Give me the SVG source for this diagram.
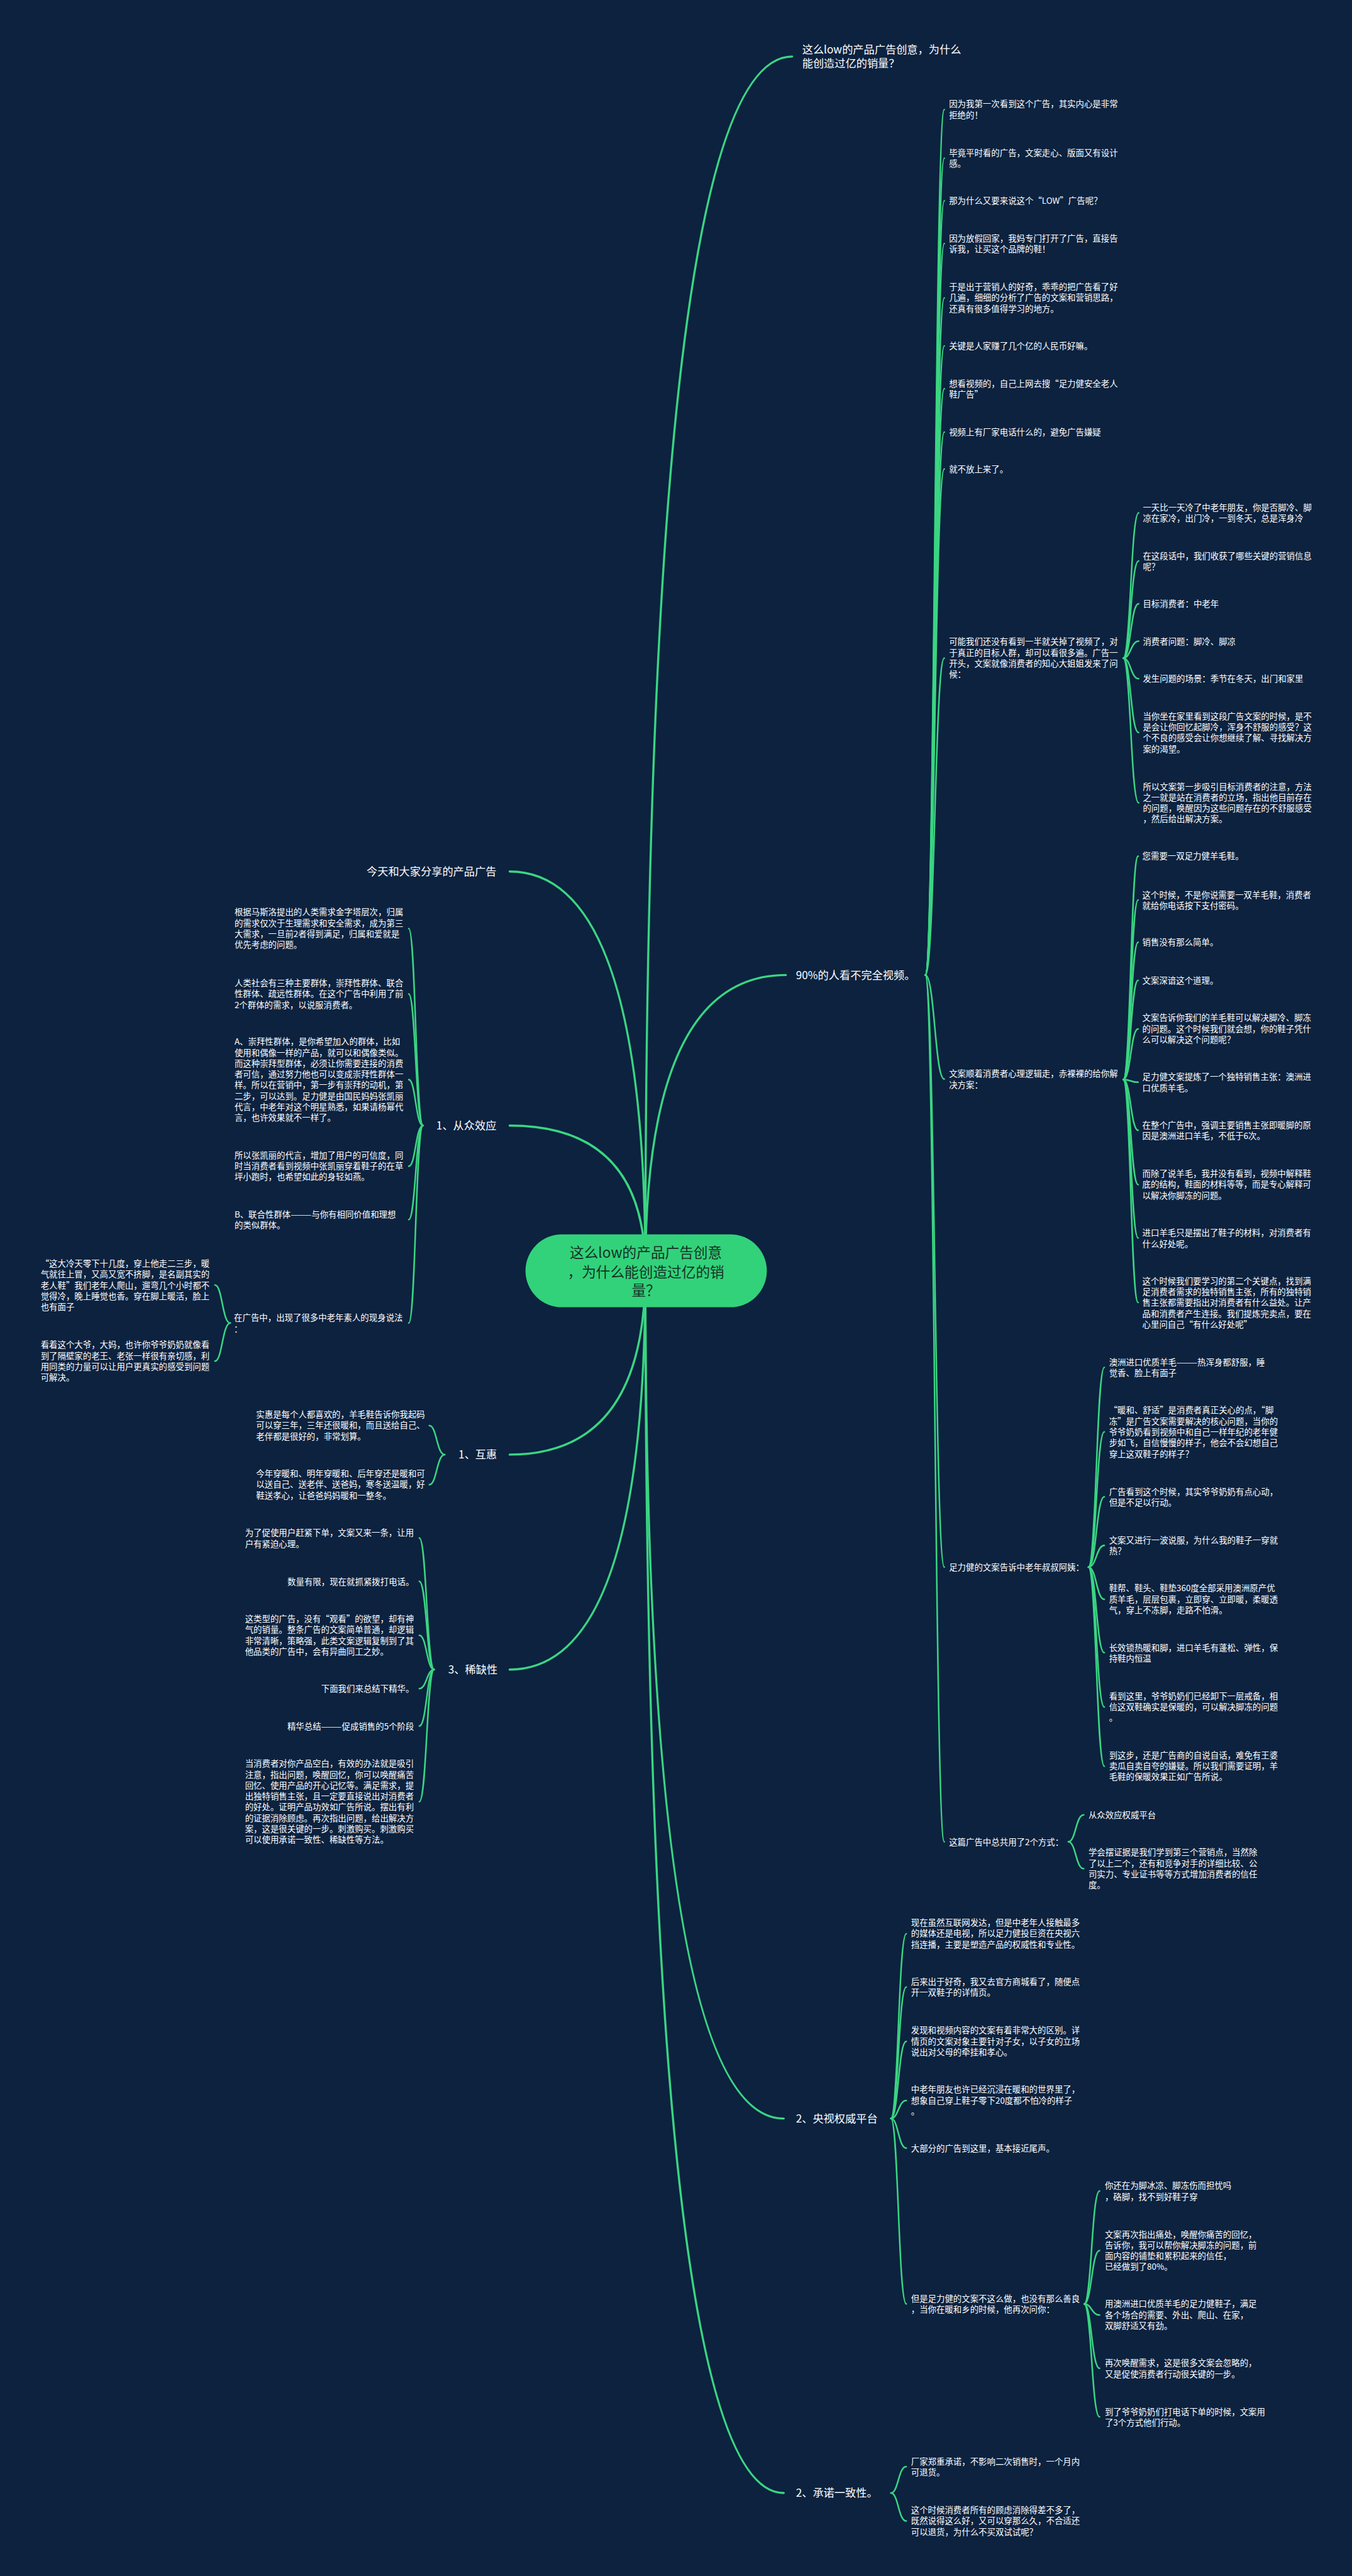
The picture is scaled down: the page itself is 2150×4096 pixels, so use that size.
<svg xmlns="http://www.w3.org/2000/svg" width="2150" height="4096" viewBox="0 0 2150 4096">
<style>
.t{font-family:"Noto Sans CJK SC","Noto Sans",sans-serif;font-size:16px;fill:#ffffff}
.l{font-size:20.5px}
.c{font-size:27px;fill:#163226;text-anchor:middle}
.e{text-anchor:end}
.k{fill:none;stroke:#3bd582;stroke-width:3;stroke-linecap:round}
.m{stroke-width:4}
</style>
<rect x="0" y="0" width="2150" height="4096" fill="#0c223f"/>
<g transform="scale(0.83984)">
<g id="connectors">
<path class="k m" d="M1222 2406 Q1222 107 1500 107"/>
<path class="k m" d="M1222 2406 Q1222 1846 1488 1846"/>
<path class="k m" d="M1222 2406 Q1222 4011 1484 4011"/>
<path class="k m" d="M1222 2406 Q1222 4720 1484 4720"/>
<path class="k m" d="M1222 2406 Q1222 1650 965 1650"/>
<path class="k m" d="M1222 2406 Q1222 2131 965 2131"/>
<path class="k m" d="M1222 2406 Q1222 2754 965 2754"/>
<path class="k m" d="M1222 2406 Q1222 3161 965 3161"/>
<path class="k" d="M1752 1846 C1770 1846 1770 207.5 1788 207.5"/>
<path class="k" d="M1752 1846 C1770 1846 1770 299.5 1788 299.5"/>
<path class="k" d="M1752 1846 C1770 1846 1770 380 1788 380"/>
<path class="k" d="M1752 1846 C1770 1846 1770 461 1788 461"/>
<path class="k" d="M1752 1846 C1770 1846 1770 564 1788 564"/>
<path class="k" d="M1752 1846 C1770 1846 1770 655 1788 655"/>
<path class="k" d="M1752 1846 C1770 1846 1770 736 1788 736"/>
<path class="k" d="M1752 1846 C1770 1846 1770 818 1788 818"/>
<path class="k" d="M1752 1846 C1770 1846 1770 888 1788 888"/>
<path class="k" d="M1752 1846 C1770 1846 1770 1246 1788 1246"/>
<path class="k" d="M1752 1846 C1770 1846 1770 2043 1788 2043"/>
<path class="k" d="M1752 1846 C1770 1846 1770 2967 1788 2967"/>
<path class="k" d="M1752 1846 C1770 1846 1770 3487 1788 3487"/>
<path class="k" d="M2127 1246 C2141 1246 2141 971 2156 971"/>
<path class="k" d="M2127 1246 C2141 1246 2141 1062 2156 1062"/>
<path class="k" d="M2127 1246 C2141 1246 2141 1143 2156 1143"/>
<path class="k" d="M2127 1246 C2141 1246 2141 1214 2156 1214"/>
<path class="k" d="M2127 1246 C2141 1246 2141 1285 2156 1285"/>
<path class="k" d="M2127 1246 C2141 1246 2141 1387 2156 1387"/>
<path class="k" d="M2127 1246 C2141 1246 2141 1520 2156 1520"/>
<path class="k" d="M2127 2044 C2141 2044 2141 1621 2155 1621"/>
<path class="k" d="M2127 2044 C2141 2044 2141 1704 2155 1704"/>
<path class="k" d="M2127 2044 C2141 2044 2141 1784 2155 1784"/>
<path class="k" d="M2127 2044 C2141 2044 2141 1856 2155 1856"/>
<path class="k" d="M2127 2044 C2141 2044 2141 1948 2155 1948"/>
<path class="k" d="M2127 2044 C2141 2044 2141 2049 2155 2049"/>
<path class="k" d="M2127 2044 C2141 2044 2141 2140 2155 2140"/>
<path class="k" d="M2127 2044 C2141 2044 2141 2243 2155 2243"/>
<path class="k" d="M2127 2044 C2141 2044 2141 2344 2155 2344"/>
<path class="k" d="M2127 2044 C2141 2044 2141 2466 2155 2466"/>
<path class="k" d="M2061 2967 C2076 2967 2076 2589 2091 2589"/>
<path class="k" d="M2061 2967 C2076 2967 2076 2711 2091 2711"/>
<path class="k" d="M2061 2967 C2076 2967 2076 2834 2091 2834"/>
<path class="k" d="M2061 2967 C2076 2967 2076 2926 2091 2926"/>
<path class="k" d="M2061 2967 C2076 2967 2076 3028 2091 3028"/>
<path class="k" d="M2061 2967 C2076 2967 2076 3129 2091 3129"/>
<path class="k" d="M2061 2967 C2076 2967 2076 3232 2091 3232"/>
<path class="k" d="M2061 2967 C2076 2967 2076 3344 2091 3344"/>
<path class="k" d="M2023 3487 C2037 3487 2037 3436 2052 3436"/>
<path class="k" d="M2023 3487 C2037 3487 2037 3538 2052 3538"/>
<path class="k" d="M1687 4011 C1701 4011 1701 3661 1716 3661"/>
<path class="k" d="M1687 4011 C1701 4011 1701 3762 1716 3762"/>
<path class="k" d="M1687 4011 C1701 4011 1701 3865 1716 3865"/>
<path class="k" d="M1687 4011 C1701 4011 1701 3977 1716 3977"/>
<path class="k" d="M1687 4011 C1701 4011 1701 4067 1716 4067"/>
<path class="k" d="M1687 4011 C1701 4011 1701 4362 1716 4362"/>
<path class="k" d="M2053 4362 C2067 4362 2067 4148 2082 4148"/>
<path class="k" d="M2053 4362 C2067 4362 2067 4261 2082 4261"/>
<path class="k" d="M2053 4362 C2067 4362 2067 4383 2082 4383"/>
<path class="k" d="M2053 4362 C2067 4362 2067 4484 2082 4484"/>
<path class="k" d="M2053 4362 C2067 4362 2067 4576 2082 4576"/>
<path class="k" d="M1687 4720 C1701 4720 1701 4670 1716 4670"/>
<path class="k" d="M1687 4720 C1701 4720 1701 4773 1716 4773"/>
<path class="k" d="M801 2131 C787 2131 787 1758 774 1758"/>
<path class="k" d="M801 2131 C787 2131 787 1882 774 1882"/>
<path class="k" d="M801 2131 C787 2131 787 2044 774 2044"/>
<path class="k" d="M801 2131 C787 2131 787 2208 774 2208"/>
<path class="k" d="M801 2131 C787 2131 787 2309 774 2309"/>
<path class="k" d="M801 2131 C787 2131 787 2505 774 2505"/>
<path class="k" d="M436 2505 C421 2505 421 2433 407 2433"/>
<path class="k" d="M436 2505 C421 2505 421 2577 407 2577"/>
<path class="k" d="M842 2754 C827 2754 827 2699 813 2699"/>
<path class="k" d="M842 2754 C827 2754 827 2811 813 2811"/>
<path class="k" d="M822 3161 C808 3161 808 2912 794 2912"/>
<path class="k" d="M822 3161 C808 3161 808 2994 794 2994"/>
<path class="k" d="M822 3161 C808 3161 808 3096 794 3096"/>
<path class="k" d="M822 3161 C808 3161 808 3197 794 3197"/>
<path class="k" d="M822 3161 C808 3161 808 3268 794 3268"/>
<path class="k" d="M822 3161 C808 3161 808 3411 794 3411"/>
</g>

<g id="root">
<rect x="995" y="2337" width="457" height="138" rx="69" fill="#32d27a"/>
<text class="t c" x="1223" y="2382">这么low的产品广告创意</text>
<text class="t c" x="1223" y="2418">，为什么能创造过亿的销</text>
<text class="t c" x="1223" y="2453">量？</text>
</g>

<g id="b_title"><text class="t l" x="1519" y="101"><tspan x="1519">这么low的产品广告创意，为什么</tspan><tspan x="1519" dy="27">能创造过亿的销量？</tspan></text></g>
<g id="b_90"><text class="t l" x="1507" y="1853.5">90%的人看不完全视频。</text></g>
<g id="b_cctv"><text class="t l" x="1507" y="4018.5">2、央视权威平台</text></g>
<g id="b_promise"><text class="t l" x="1507" y="4727.5">2、承诺一致性。</text></g>
<g id="b_share"><text class="t l e" x="940" y="1657.5">今天和大家分享的产品广告</text></g>
<g id="b_herd"><text class="t l e" x="940" y="2138.5">1、从众效应</text></g>
<g id="b_recip"><text class="t l e" x="941" y="2761.5">1、互惠</text></g>
<g id="b_scarce"><text class="t l e" x="942" y="3168.5">3、稀缺性</text></g>

<g id="n90_1"><text class="t" y="203"><tspan x="1797">因为我第一次看到这个广告，其实内心是非常</tspan><tspan x="1797" dy="20.6">拒绝的！</tspan></text></g>
<g id="n90_2"><text class="t" y="295"><tspan x="1797">毕竟平时看的广告，文案走心、版面又有设计</tspan><tspan x="1797" dy="20.6">感。</tspan></text></g>
<g id="n90_3"><text class="t" x="1797" y="386">那为什么又要来说这个“LOW”广告呢？</text></g>
<g id="n90_4"><text class="t" y="457"><tspan x="1797">因为放假回家，我妈专门打开了广告，直接告</tspan><tspan x="1797" dy="20.6">诉我，让买这个品牌的鞋！</tspan></text></g>
<g id="n90_5"><text class="t" y="549"><tspan x="1797">于是出于营销人的好奇，乖乖的把广告看了好</tspan><tspan x="1797" dy="20.6">几遍，细细的分析了广告的文案和营销思路，</tspan><tspan x="1797" dy="20.6">还真有很多值得学习的地方。</tspan></text></g>
<g id="n90_6"><text class="t" x="1797" y="661">关键是人家赚了几个亿的人民币好嘛。</text></g>
<g id="n90_7"><text class="t" y="732"><tspan x="1797">想看视频的，自己上网去搜“足力健安全老人</tspan><tspan x="1797" dy="20.6">鞋广告”</tspan></text></g>
<g id="n90_8"><text class="t" x="1797" y="824">视频上有厂家电话什么的，避免广告嫌疑</text></g>
<g id="n90_9"><text class="t" x="1797" y="894">就不放上来了。</text></g>
<g id="n90_10"><text class="t" y="1221"><tspan x="1797">可能我们还没有看到一半就关掉了视频了，对</tspan><tspan x="1797" dy="20.6">于真正的目标人群，却可以看很多遍。广告一</tspan><tspan x="1797" dy="20.6">开头，文案就像消费者的知心大姐姐发来了问</tspan><tspan x="1797" dy="20.6">候：</tspan></text></g>
<g id="n90_11"><text class="t" y="2039"><tspan x="1797">文案顺着消费者心理逻辑走，赤裸裸的给你解</tspan><tspan x="1797" dy="20.6">决方案：</tspan></text></g>
<g id="n90_12"><text class="t" x="1797" y="2973">足力健的文案告诉中老年叔叔阿姨：</text></g>
<g id="n90_13"><text class="t" x="1797" y="3493">这篇广告中总共用了2个方式：</text></g>

<g id="nk_1"><text class="t" y="967"><tspan x="2164">一天比一天冷了中老年朋友，你是否脚冷、脚</tspan><tspan x="2164" dy="20.6">凉在家冷，出门冷，一到冬天，总是浑身冷</tspan></text></g>
<g id="nk_2"><text class="t" y="1058"><tspan x="2164">在这段话中，我们收获了哪些关键的营销信息</tspan><tspan x="2164" dy="20.6">呢？</tspan></text></g>
<g id="nk_3"><text class="t" x="2164" y="1149">目标消费者：中老年</text></g>
<g id="nk_4"><text class="t" x="2164" y="1220">消费者问题：脚冷、脚凉</text></g>
<g id="nk_5"><text class="t" x="2164" y="1291">发生问题的场景：季节在冬天，出门和家里</text></g>
<g id="nk_6"><text class="t" y="1362"><tspan x="2164">当你坐在家里看到这段广告文案的时候，是不</tspan><tspan x="2164" dy="20.6">是会让你回忆起脚冷，浑身不舒服的感受？这</tspan><tspan x="2164" dy="20.6">个不良的感受会让你想继续了解、寻找解决方</tspan><tspan x="2164" dy="20.6">案的渴望。</tspan></text></g>
<g id="nk_7"><text class="t" y="1495"><tspan x="2164">所以文案第一步吸引目标消费者的注意，方法</tspan><tspan x="2164" dy="20.6">之一就是站在消费者的立场，指出他目前存在</tspan><tspan x="2164" dy="20.6">的问题，唤醒因为这些问题存在的不舒服感受</tspan><tspan x="2164" dy="20.6">，然后给出解决方案。</tspan></text></g>

<g id="ns_1"><text class="t" x="2163" y="1627">您需要一双足力健羊毛鞋。</text></g>
<g id="ns_2"><text class="t" y="1700"><tspan x="2163">这个时候，不是你说需要一双羊毛鞋，消费者</tspan><tspan x="2163" dy="20.6">就给你电话按下支付密码。</tspan></text></g>
<g id="ns_3"><text class="t" x="2163" y="1790">销售没有那么简单。</text></g>
<g id="ns_4"><text class="t" x="2163" y="1862">文案深谙这个道理。</text></g>
<g id="ns_5"><text class="t" y="1933"><tspan x="2163">文案告诉你我们的羊毛鞋可以解决脚冷、脚冻</tspan><tspan x="2163" dy="20.6">的问题。这个时候我们就会想，你的鞋子凭什</tspan><tspan x="2163" dy="20.6">么可以解决这个问题呢？</tspan></text></g>
<g id="ns_6"><text class="t" y="2045"><tspan x="2163">足力健文案提炼了一个独特销售主张：澳洲进</tspan><tspan x="2163" dy="20.6">口优质羊毛。</tspan></text></g>
<g id="ns_7"><text class="t" y="2136"><tspan x="2163">在整个广告中，强调主要销售主张即暖脚的原</tspan><tspan x="2163" dy="20.6">因是澳洲进口羊毛，不低于6次。</tspan></text></g>
<g id="ns_8"><text class="t" y="2228"><tspan x="2163">而除了说羊毛，我并没有看到，视频中解释鞋</tspan><tspan x="2163" dy="20.6">底的结构，鞋面的材料等等，而是专心解释可</tspan><tspan x="2163" dy="20.6">以解决你脚冻的问题。</tspan></text></g>
<g id="ns_9"><text class="t" y="2340"><tspan x="2163">进口羊毛只是摆出了鞋子的材料，对消费者有</tspan><tspan x="2163" dy="20.6">什么好处呢。</tspan></text></g>
<g id="ns_10"><text class="t" y="2431"><tspan x="2163">这个时候我们要学习的第二个关键点，找到满</tspan><tspan x="2163" dy="20.6">足消费者需求的独特销售主张，所有的独特销</tspan><tspan x="2163" dy="20.6">售主张都需要指出对消费者有什么益处。让产</tspan><tspan x="2163" dy="20.6">品和消费者产生连接。我们提炼完卖点，要在</tspan><tspan x="2163" dy="20.6">心里问自己“有什么好处呢”</tspan></text></g>

<g id="nz_1"><text class="t" y="2585"><tspan x="2100">澳洲进口优质羊毛———热浑身都舒服，睡</tspan><tspan x="2100" dy="20.6">觉香、脸上有面子</tspan></text></g>
<g id="nz_2"><text class="t" y="2676"><tspan x="2100">“暖和、舒适”是消费者真正关心的点，“脚</tspan><tspan x="2100" dy="20.6">冻”是广告文案需要解决的核心问题，当你的</tspan><tspan x="2100" dy="20.6">爷爷奶奶看到视频中和自己一样年纪的老年健</tspan><tspan x="2100" dy="20.6">步如飞，自信慢慢的样子，他会不会幻想自己</tspan><tspan x="2100" dy="20.6">穿上这双鞋子的样子？</tspan></text></g>
<g id="nz_3"><text class="t" y="2830"><tspan x="2100">广告看到这个时候，其实爷爷奶奶有点心动，</tspan><tspan x="2100" dy="20.6">但是不足以行动。</tspan></text></g>
<g id="nz_4"><text class="t" y="2922"><tspan x="2100">文案又进行一波说服，为什么我的鞋子一穿就</tspan><tspan x="2100" dy="20.6">热？</tspan></text></g>
<g id="nz_5"><text class="t" y="3013"><tspan x="2100">鞋帮、鞋头、鞋垫360度全部采用澳洲原产优</tspan><tspan x="2100" dy="20.6">质羊毛，层层包裹，立即穿、立即暖，柔暖透</tspan><tspan x="2100" dy="20.6">气，穿上不冻脚，走路不怕滑。</tspan></text></g>
<g id="nz_6"><text class="t" y="3125"><tspan x="2100">长效锁热暖和脚，进口羊毛有蓬松、弹性，保</tspan><tspan x="2100" dy="20.6">持鞋内恒温</tspan></text></g>
<g id="nz_7"><text class="t" y="3217"><tspan x="2100">看到这里，爷爷奶奶们已经卸下一层戒备，相</tspan><tspan x="2100" dy="20.6">信这双鞋确实是保暖的，可以解决脚冻的问题</tspan><tspan x="2100" dy="20.6">。</tspan></text></g>
<g id="nz_8"><text class="t" y="3329"><tspan x="2100">到这步，还是广告商的自说自话，难免有王婆</tspan><tspan x="2100" dy="20.6">卖瓜自卖自夸的嫌疑。所以我们需要证明，羊</tspan><tspan x="2100" dy="20.6">毛鞋的保暖效果正如广告所说。</tspan></text></g>

<g id="nw_1"><text class="t" x="2061" y="3442">从众效应权威平台</text></g>
<g id="nw_2"><text class="t" y="3513"><tspan x="2061">学会摆证据是我们学到第三个营销点，当然除</tspan><tspan x="2061" dy="20.6">了以上二个，还有和竞争对手的详细比较、公</tspan><tspan x="2061" dy="20.6">司实力、专业证书等等方式增加消费者的信任</tspan><tspan x="2061" dy="20.6">度。</tspan></text></g>

<g id="nc_1"><text class="t" y="3646"><tspan x="1725">现在虽然互联网发达，但是中老年人接触最多</tspan><tspan x="1725" dy="20.6">的媒体还是电视，所以足力健投巨资在央视六</tspan><tspan x="1725" dy="20.6">挡连播，主要是塑造产品的权威性和专业性。</tspan></text></g>
<g id="nc_2"><text class="t" y="3758"><tspan x="1725">后来出于好奇，我又去官方商城看了，随便点</tspan><tspan x="1725" dy="20.6">开一双鞋子的详情页。</tspan></text></g>
<g id="nc_3"><text class="t" y="3850"><tspan x="1725">发现和视频内容的文案有着非常大的区别。详</tspan><tspan x="1725" dy="20.6">情页的文案对象主要针对子女，以子女的立场</tspan><tspan x="1725" dy="20.6">说出对父母的牵挂和孝心。</tspan></text></g>
<g id="nc_4"><text class="t" y="3962"><tspan x="1725">中老年朋友也许已经沉浸在暖和的世界里了，</tspan><tspan x="1725" dy="20.6">想象自己穿上鞋子零下20度都不怕冷的样子</tspan><tspan x="1725" dy="20.6">。</tspan></text></g>
<g id="nc_5"><text class="t" x="1725" y="4073">大部分的广告到这里，基本接近尾声。</text></g>
<g id="nc_6"><text class="t" y="4358"><tspan x="1725">但是足力健的文案不这么做，也没有那么善良</tspan><tspan x="1725" dy="20.6">，当你在暖和乡的时候，他再次问你：</tspan></text></g>

<g id="nd_1"><text class="t" y="4144"><tspan x="2092">你还在为脚冰凉、脚冻伤而担忧吗</tspan><tspan x="2092" dy="20.6">，硌脚，找不到好鞋子穿</tspan></text></g>
<g id="nd_2"><text class="t" y="4236"><tspan x="2092">文案再次指出痛处，唤醒你痛苦的回忆，</tspan><tspan x="2092" dy="20.6">告诉你，我可以帮你解决脚冻的问题，前</tspan><tspan x="2092" dy="20.6">面内容的铺垫和累积起来的信任，</tspan><tspan x="2092" dy="20.6">已经做到了80%。</tspan></text></g>
<g id="nd_3"><text class="t" y="4368"><tspan x="2092">用澳洲进口优质羊毛的足力健鞋子，满足</tspan><tspan x="2092" dy="20.6">各个场合的需要、外出、爬山、在家，</tspan><tspan x="2092" dy="20.6">双脚舒适又有劲。</tspan></text></g>
<g id="nd_4"><text class="t" y="4480"><tspan x="2092">再次唤醒需求，这是很多文案会忽略的，</tspan><tspan x="2092" dy="20.6">又是促使消费者行动很关键的一步。</tspan></text></g>
<g id="nd_5"><text class="t" y="4572"><tspan x="2092">到了爷爷奶奶们打电话下单的时候，文案用</tspan><tspan x="2092" dy="20.6">了3个方式他们行动。</tspan></text></g>

<g id="np_1"><text class="t" y="4666"><tspan x="1725">厂家郑重承诺，不影响二次销售时，一个月内</tspan><tspan x="1725" dy="20.6">可退货。</tspan></text></g>
<g id="np_2"><text class="t" y="4758"><tspan x="1725">这个时候消费者所有的顾虑消除得差不多了，</tspan><tspan x="1725" dy="20.6">既然说得这么好，又可以穿那么久，不合适还</tspan><tspan x="1725" dy="20.6">可以退货，为什么不买双试试呢？</tspan></text></g>

<g id="nh_1"><text class="t" y="1733"><tspan x="444">根据马斯洛提出的人类需求金字塔层次，归属</tspan><tspan x="444" dy="20.6">的需求仅次于生理需求和安全需求，成为第三</tspan><tspan x="444" dy="20.6">大需求，一旦前2者得到满足，归属和爱就是</tspan><tspan x="444" dy="20.6">优先考虑的问题。</tspan></text></g>
<g id="nh_2"><text class="t" y="1867"><tspan x="444">人类社会有三种主要群体，崇拜性群体、联合</tspan><tspan x="444" dy="20.6">性群体、疏远性群体。在这个广告中利用了前</tspan><tspan x="444" dy="20.6">2个群体的需求，以说服消费者。</tspan></text></g>
<g id="nh_3"><text class="t" y="1978"><tspan x="444">A、崇拜性群体，是你希望加入的群体，比如</tspan><tspan x="444" dy="20.6">使用和偶像一样的产品，就可以和偶像类似。</tspan><tspan x="444" dy="20.6">而这种崇拜型群体，必须让你需要连接的消费</tspan><tspan x="444" dy="20.6">者可信，通过努力他也可以变成崇拜性群体一</tspan><tspan x="444" dy="20.6">样。所以在营销中，第一步有崇拜的动机，第</tspan><tspan x="444" dy="20.6">二步，可以达到。足力健是由国民妈妈张凯丽</tspan><tspan x="444" dy="20.6">代言，中老年对这个明星熟悉，如果请杨幂代</tspan><tspan x="444" dy="20.6">言，也许效果就不一样了。</tspan></text></g>
<g id="nh_4"><text class="t" y="2193"><tspan x="444">所以张凯丽的代言，增加了用户的可信度，同</tspan><tspan x="444" dy="20.6">时当消费者看到视频中张凯丽穿着鞋子的在草</tspan><tspan x="444" dy="20.6">坪小跑时，也希望如此的身轻如燕。</tspan></text></g>
<g id="nh_5"><text class="t" y="2305"><tspan x="444">B、联合性群体———与你有相同价值和理想</tspan><tspan x="444" dy="20.6">的类似群体。</tspan></text></g>
<g id="nh_6"><text class="t" y="2501"><tspan x="443">在广告中，出现了很多中老年素人的现身说法</tspan><tspan x="443" dy="20.6">：</tspan></text></g>

<g id="ng_1"><text class="t" y="2398"><tspan x="77">“这大冷天零下十几度，穿上他走二三步，暖</tspan><tspan x="77" dy="20.6">气就往上冒，又高又宽不挤脚，是名副其实的</tspan><tspan x="77" dy="20.6">老人鞋”我们老年人爬山，遛弯几个小时都不</tspan><tspan x="77" dy="20.6">觉得冷，晚上睡觉也香。穿在脚上暖活，脸上</tspan><tspan x="77" dy="20.6">也有面子</tspan></text></g>
<g id="ng_2"><text class="t" y="2552"><tspan x="77">看着这个大爷，大妈，也许你爷爷奶奶就像看</tspan><tspan x="77" dy="20.6">到了隔壁家的老王、老张一样很有亲切感，利</tspan><tspan x="77" dy="20.6">用同类的力量可以让用户更真实的感受到问题</tspan><tspan x="77" dy="20.6">可解决。</tspan></text></g>

<g id="nr_1"><text class="t" y="2684"><tspan x="485">实惠是每个人都喜欢的，羊毛鞋告诉你我起码</tspan><tspan x="485" dy="20.6">可以穿三年，三年还很暖和，而且送给自己、</tspan><tspan x="485" dy="20.6">老伴都是很好的，非常划算。</tspan></text></g>
<g id="nr_2"><text class="t" y="2796"><tspan x="485">今年穿暖和、明年穿暖和、后年穿还是暖和可</tspan><tspan x="485" dy="20.6">以送自己、送老伴、送爸妈，寒冬送温暖，好</tspan><tspan x="485" dy="20.6">鞋送孝心，让爸爸妈妈暖和一整冬。</tspan></text></g>

<g id="nx_1"><text class="t" y="2908"><tspan x="464">为了促使用户赶紧下单，文案又来一条，让用</tspan><tspan x="464" dy="20.6">户有紧迫心理。</tspan></text></g>
<g id="nx_2"><text class="t e" x="784" y="3000">数量有限，现在就抓紧拨打电话。</text></g>
<g id="nx_3"><text class="t" y="3071"><tspan x="464">这类型的广告，没有“观看”的欲望，却有神</tspan><tspan x="464" dy="20.6">气的销量。整条广告的文案简单普通，却逻辑</tspan><tspan x="464" dy="20.6">非常清晰，策略强，此类文案逻辑复制到了其</tspan><tspan x="464" dy="20.6">他品类的广告中，会有异曲同工之妙。</tspan></text></g>
<g id="nx_4"><text class="t e" x="784" y="3203">下面我们来总结下精华。</text></g>
<g id="nx_5"><text class="t e" x="784" y="3274">精华总结———促成销售的5个阶段</text></g>
<g id="nx_6"><text class="t" y="3345"><tspan x="464">当消费者对你产品空白，有效的办法就是吸引</tspan><tspan x="464" dy="20.6">注意，指出问题，唤醒回忆，你可以唤醒痛苦</tspan><tspan x="464" dy="20.6">回忆、使用产品的开心记忆等。满足需求，提</tspan><tspan x="464" dy="20.6">出独特销售主张，且一定要直接说出对消费者</tspan><tspan x="464" dy="20.6">的好处。证明产品功效如广告所说。摆出有利</tspan><tspan x="464" dy="20.6">的证据消除顾虑。再次指出问题，给出解决方</tspan><tspan x="464" dy="20.6">案，这是很关键的一步。刺激购买。刺激购买</tspan><tspan x="464" dy="20.6">可以使用承诺一致性、稀缺性等方法。</tspan></text></g>
</g>
</svg>
